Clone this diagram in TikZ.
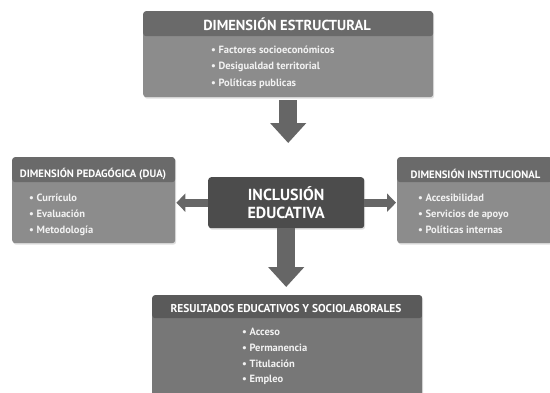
\documentclass[tikz,border=0pt]{standalone}
\usepackage{fontspec}
\setmainfont{PT Sans}
\usetikzlibrary{arrows.meta,shadows}

\definecolor{cabgris}{HTML}{6A6A6A}
\definecolor{cuerpogris}{HTML}{8C8C8C}
\definecolor{cabosc}{HTML}{5A5A5A}
\definecolor{cuerposc}{HTML}{777777}
\definecolor{centrogris}{HTML}{4C4C4C}
\definecolor{flechagris}{HTML}{666666}
\definecolor{textogris}{HTML}{F2F2F2}

\tikzset{
  caja/.style={rectangle, rounded corners=3pt, anchor=north west, inner sep=0pt,
    drop shadow={opacity=0.25, shadow xshift=1pt, shadow yshift=-1.5pt}},
  cabecera/.style 2 args={path picture={\fill[#1] (path picture bounding box.north west)
    rectangle ([yshift=-#2]path picture bounding box.north east);}},
  titulo/.style={text=white, font=\bfseries\fontsize{#1}{#1}\selectfont, inner sep=0pt},
  lista/.style={text=textogris, font=\bfseries\fontsize{10.5}{#1}\selectfont, align=left,
    anchor=north west, inner sep=0pt},
  flechagrande/.style={draw=flechagris, line width=18pt,
    -{Triangle[length=20pt, width=35pt]}},
  flechachica/.style={draw=flechagris, line width=8pt,
    -{Triangle[length=9pt, width=18pt]}},
}

\begin{document}
\begin{tikzpicture}[x=1pt,y=-1pt,line join=round]
  \useasboundingbox[fill=white] (0,0) rectangle (550,392);
  % Dimension estructural
  \node[caja, fill=cuerpogris, cabecera={cabgris}{25pt}, minimum width=290pt,
    minimum height=86pt] (estr) at (143,11) {};
  \node[titulo=14.5] at (287,24.5) {DIMENSIÓN ESTRUCTURAL};
  \node[lista=16.5] at (211,45.5) {\textbullet\ Factores socioeconómicos\\
    \textbullet\ Desigualdad territorial\\ \textbullet\ Políticas publicas};
  % Dimension pedagogica
  \node[caja, fill=cuerpogris, cabecera={cabgris}{25pt}, minimum width=163pt,
    minimum height=86pt] (peda) at (12,157) {};
  \node[titulo=10.7] at (93,174) {DIMENSIÓN PEDAGÓGICA (DUA)};
  \node[lista=16] at (29,193.5) {\textbullet\ Currículo\\ \textbullet\ Evaluación\\
    \textbullet\ Metodología};
  % Dimension institucional
  \node[caja, fill=cuerpogris, cabecera={cabgris}{25pt}, minimum width=155pt,
    minimum height=86pt] (inst) at (397,157) {};
  \node[titulo=10.7] at (475.5,173.5) {DIMENSIÓN INSTITUCIONAL};
  \node[lista=16] at (418,194) {\textbullet\ Accesibilidad\\
    \textbullet\ Servicios de apoyo\\ \textbullet\ Políticas internas};
  % Inclusion educativa
  \node[caja, fill=centrogris, minimum width=156pt, minimum height=51pt,
    text=white, font=\bfseries\fontsize{16}{17.5}\selectfont, align=center]
    (inc) at (208,177) {INCLUSIÓN\\EDUCATIVA};
  % Resultados
  \node[caja, fill=cuerposc, cabecera={cabosc}{23pt}, minimum width=270pt,
    minimum height=110pt] (res) at (152,295) {};
  \node[titulo=11.4] at (286,309) {RESULTADOS EDUCATIVOS Y SOCIOLABORALES};
  \node[lista=15.7] at (242,328) {\textbullet\ Acceso\\ \textbullet\ Permanencia\\
    \textbullet\ Titulación\\ \textbullet\ Empleo};
  % flechas
  \draw[flechagrande, shorten <=3pt, shorten >=34pt] (estr.south) -- (estr.south |- inc.north);
  \draw[flechagrande, shorten >=8pt] (inc.south) -- (res.north -| inc.south);
  \draw[flechachica, shorten >=1pt] (inc.west) -- (inc.west -| peda.east);
  \draw[flechachica, shorten >=1pt] (inc.east) -- (inc.east -| inst.west);
\end{tikzpicture}
\end{document}
